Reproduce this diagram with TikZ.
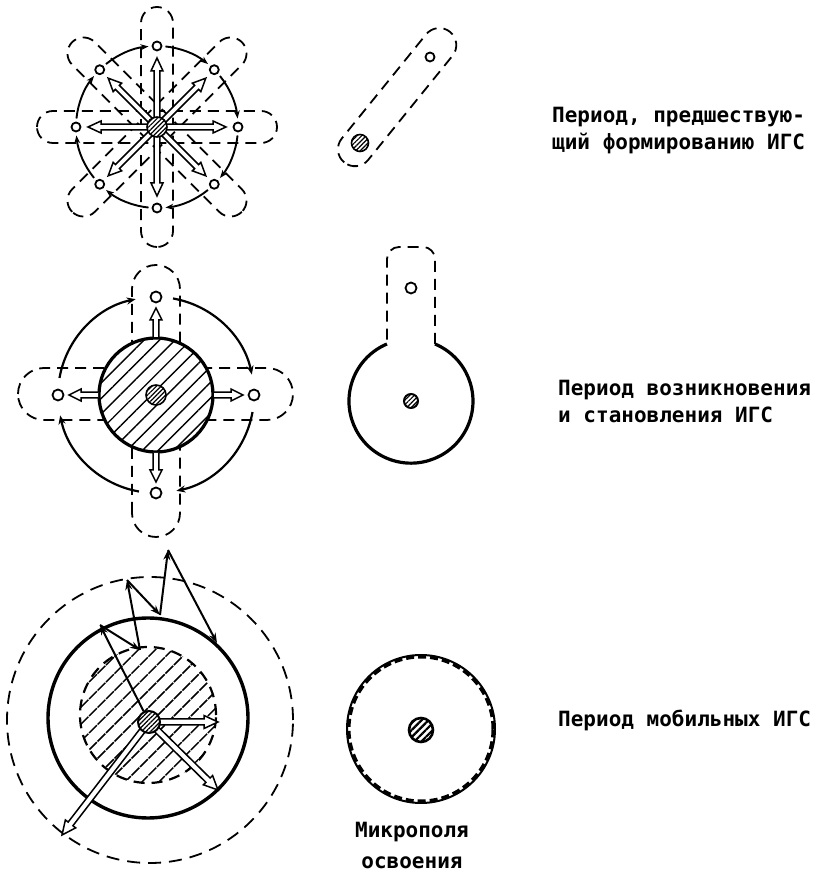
\documentclass[tikz,border=0pt]{standalone}
\usepackage{fontspec}
\newfontfamily\labfont{DejaVu Sans Mono}
\usetikzlibrary{arrows.meta,calc,patterns.meta}
\newcommand\harrow[5]{%
  \coordinate (ha) at (#1);
  \coordinate (hb) at (#2);
  \coordinate (hh) at ($(hb)!#5!(ha)$);
  \draw[hollow] ($(ha)!#3!90:(hb)$) -- ($(hh)!#3!90:(hb)$) -- ($(hh)!#4!90:(hb)$) -- (hb) -- ($(hh)!#4!-90:(hb)$) -- ($(hh)!#3!-90:(hb)$) -- ($(ha)!#3!-90:(hb)$);
}
\tikzset{
  lobe/.style={dash pattern=on 11pt off 7pt, line width=1.8pt},
  arcarrow/.style={line width=1.9pt, -{Stealth[length=8pt,width=6pt]}},
  arcarrowb/.style={line width=2.2pt, -{Stealth[length=9pt,width=7pt]}},
  hollow/.style={line width=1.5pt, fill=white, line join=miter},
  dotc/.style={circle, draw, line width=1.8pt, fill=white, inner sep=0pt, minimum size=9pt},
  hatchc/.style={circle, draw, line width=1.6pt, inner sep=0pt, minimum size=#1, preaction={fill=white}, pattern={Lines[angle=45,distance=3.2pt,line width=1.2pt]}},
  zig/.style={line width=2pt, -{Stealth[length=10pt,width=7pt]}},
  lab/.style={font=\labfont\bfseries\fontsize{21}{27}\selectfont, align=left, anchor=west, inner sep=0pt},
}
\begin{document}
\begin{tikzpicture}[x=1pt,y=1pt]
\useasboundingbox (0,0) rectangle (815,873);

% ---------- Diagram 1 ----------
\coordinate (c1) at (157,746);
\foreach \a in {0,45,90,135}
  \draw[lobe, rounded corners=16pt, rotate around={\a:(157,746)}] (37,730) rectangle (277,762);
\foreach \a in {0,45,...,315}
  \draw[arcarrow] ($(c1)+(\a+39:81pt)$) arc[start angle=\a+39, end angle=\a+6, radius=81pt];
\foreach \a in {0,45,...,315}{
  \coordinate (t1-\a) at ($(c1)+(\a:69pt)$);
  \harrow{c1}{t1-\a}{2.8pt}{6pt}{13pt}
}
\node[hatchc=20pt] (h1) at (c1) {};
\foreach \a in {0,45,...,315}
  \node[dotc] (n1-\a) at ($(c1)+(\a:81pt)$) {};

\draw[lobe, rounded corners=17pt, rotate around={51:(360,730)}] (335,713) rectangle (503,747);
\node[hatchc=17pt] (h1r) at (360,730) {};
\node[dotc] (n1r) at (430,816) {};

\node[lab] (t1) at (552,742) {Период, предшествую-\\щий формированию ИГС};

% ---------- Diagram 2 ----------
\coordinate (c2) at (156,478);
\draw[lobe, rounded corners=24pt] (132,336) rectangle (180,608);
\draw[lobe, rounded corners=26pt] (18,453) rectangle (293,505);
\foreach \a in {0,90,180,270}
  \draw[arcarrowb] ($(c2)+(\a+80:98pt)$) arc[start angle=\a+80, end angle=\a+12, radius=98pt];
\draw[line width=3.2pt, preaction={fill=white}, pattern={Lines[angle=45,distance=11pt,line width=1.4pt]}] (c2) circle[radius=57pt];
\node[hatchc=20pt] (h2) at (c2) {};
\foreach \a in {0,90,180,270}{
  \coordinate (s2-\a) at ($(c2)+(\a:58pt)$);
  \coordinate (t2-\a) at ($(c2)+(\a:87pt)$);
  \harrow{s2-\a}{t2-\a}{2.8pt}{6pt}{12pt}
}
\foreach \a in {0,90,180,270}
  \node[dotc, minimum size=11pt] (n2-\a) at ($(c2)+(\a:98pt)$) {};

\coordinate (k) at (411,472);
\draw[line width=3.2pt] (435,529) arc[start angle=67.2, end angle=-247.2, radius=62pt];
\draw[lobe, rounded corners=12pt] (435,529) -- (435,626) -- (387,626) -- (387,529);
\node[dotc, minimum size=11pt] (n2r) at (411,585) {};
\node[hatchc=14pt, line width=2pt] (h2r) at (k) {};

\node[lab] (t2) at (558,472) {Период возникновения\\и становления ИГС};

% ---------- Diagram 3 ----------
\coordinate (c3) at (149,151);
\draw[lobe, dash pattern=on 13pt off 8pt] (150,153) circle[radius=143pt];
\draw[lobe, line width=2.2pt, pattern={Lines[angle=45,distance=12pt,line width=1.5pt]}] (148,158) circle[radius=68pt];
\draw[line width=3.4pt] (148,155) circle[radius=100pt];
\coordinate (t3a) at (218,151);
\coordinate (t3b) at (218,83);
\coordinate (t3c) at (62,38);
\harrow{c3}{t3a}{3pt}{6.5pt}{14pt}
\harrow{c3}{t3b}{3pt}{6.5pt}{14pt}
\harrow{c3}{t3c}{3pt}{6.5pt}{14pt}
\node[hatchc=22pt, line width=2pt] (h3) at (c3) {};
\coordinate (zA) at (100,248);
\coordinate (zB) at (140,223);
\coordinate (zC) at (127,293);
\coordinate (zD) at (160,258);
\coordinate (zE) at (168,323);
\coordinate (zF) at (217,230);
\draw[zig] (h3) -- (zA);
\draw[zig] (zA) -- (zB);
\draw[zig] (zB) -- (zC);
\draw[zig] (zC) -- (zD);
\draw[zig] (zD) -- (zE);
\draw[zig] (zE) -- (zF);

\draw[line width=2pt] (421,144) circle[radius=74pt];
\draw[line width=3pt, dash pattern=on 8pt off 4pt] (421,144) circle[radius=72pt];
\node[hatchc=24pt, line width=2.6pt, pattern={Lines[angle=45,distance=5pt,line width=2.2pt]}] (h3r) at (421,143) {};

\node[lab] (t3) at (558,153) {Период мобильных ИГС};
\node[lab, align=center, anchor=center, font=\labfont\bfseries\fontsize{21}{31}\selectfont] (t4) at (412,28) {Микрополя\\освоения};
\end{tikzpicture}
\end{document}
